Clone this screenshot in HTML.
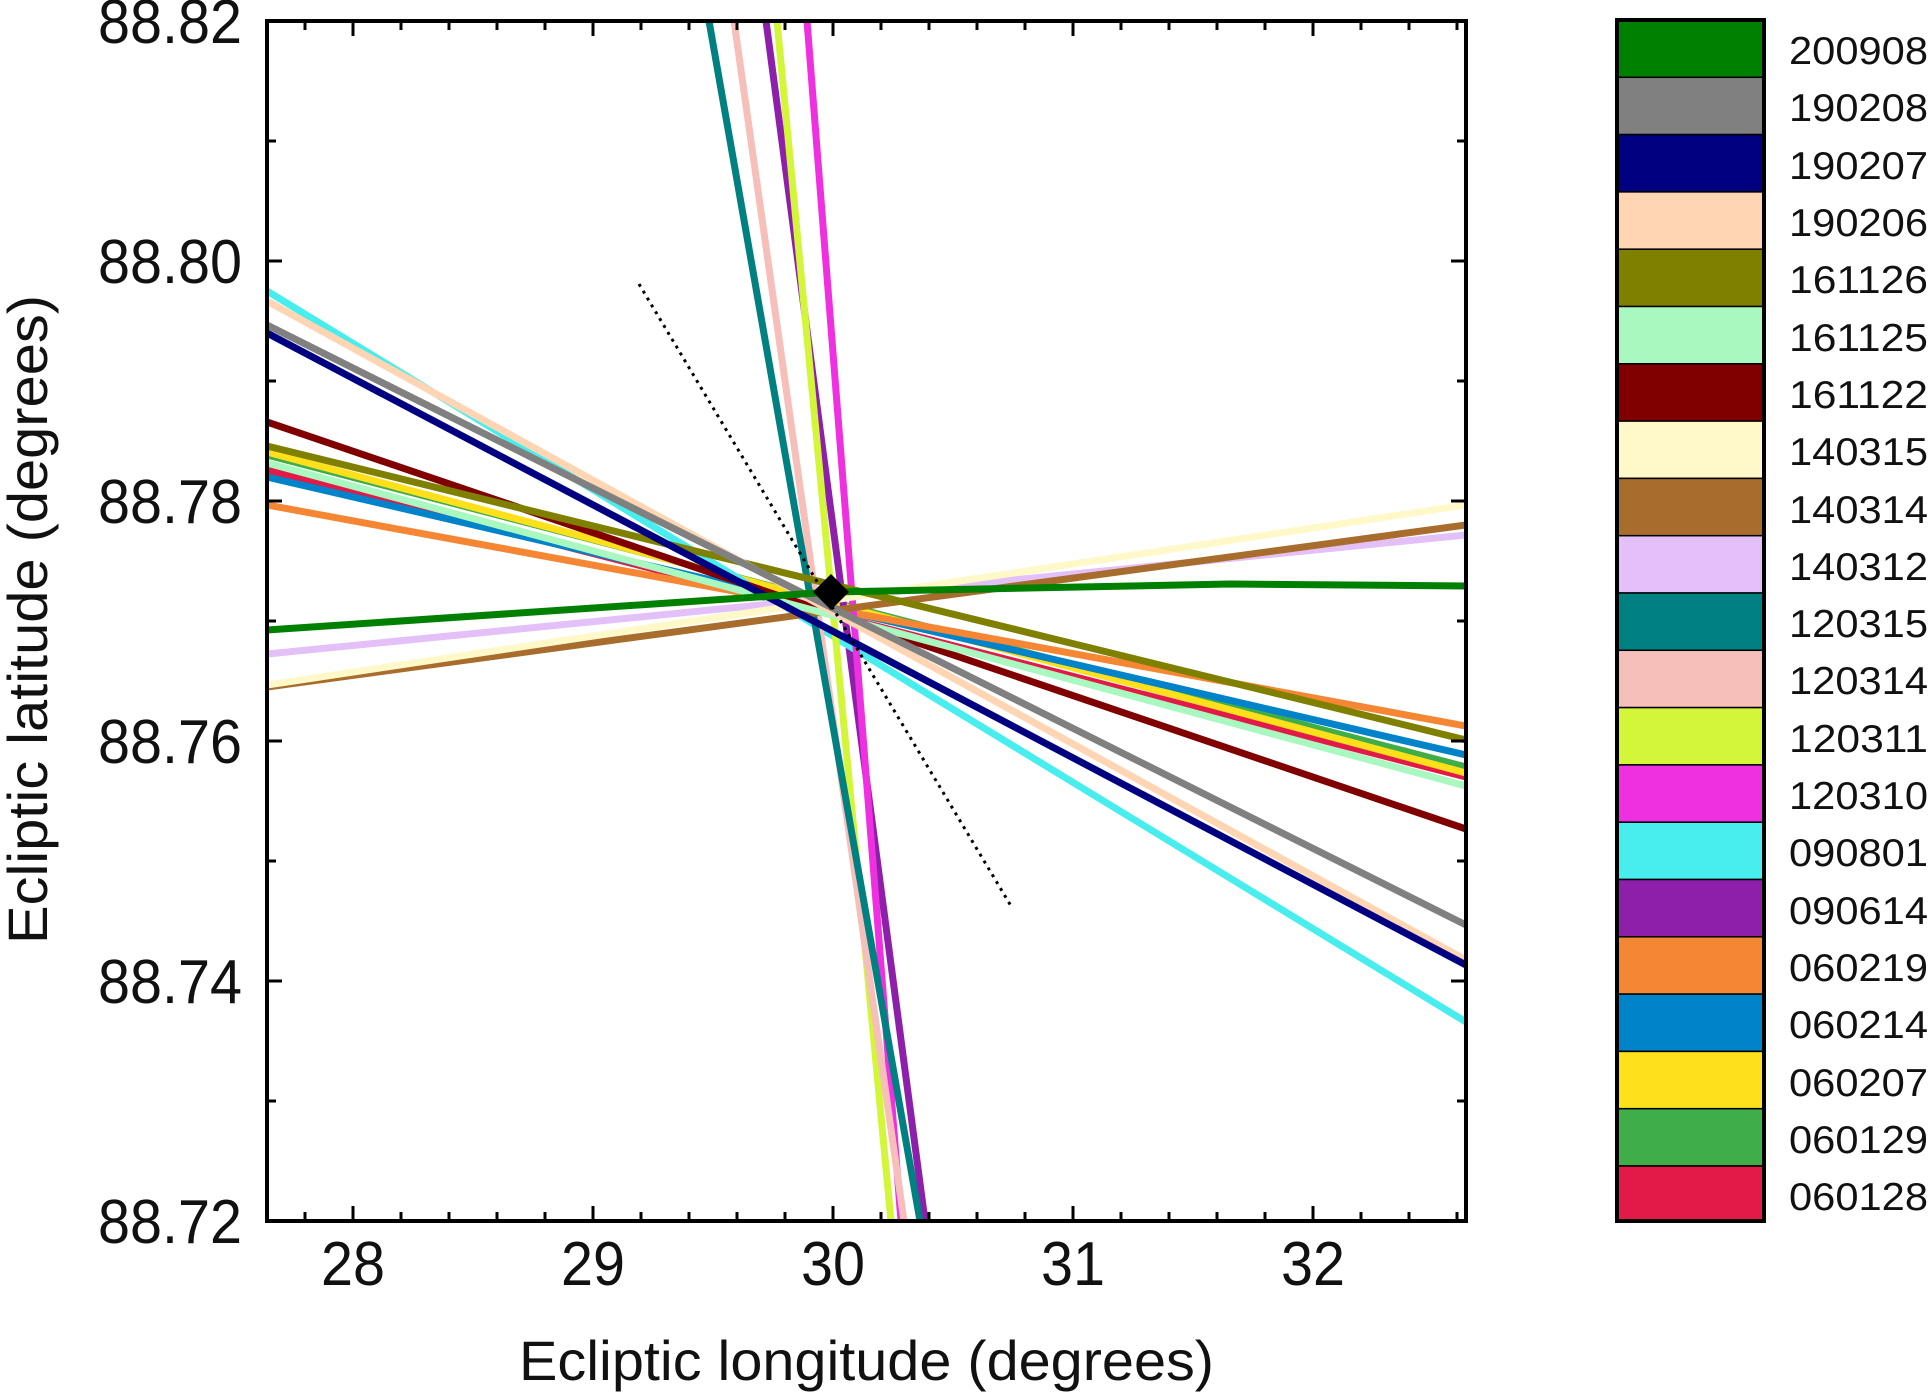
<!DOCTYPE html>
<html><head><meta charset="utf-8"><style>
html,body{margin:0;padding:0;background:#fff;}
svg{display:block;}
text{font-family:"Liberation Sans",Arial,sans-serif;fill:#111;}
</style></head><body>
<svg width="1928" height="1394" viewBox="0 0 1928 1394" xmlns="http://www.w3.org/2000/svg">
<defs><clipPath id="c"><rect x="267" y="21" width="1199" height="1200"/></clipPath></defs>
<g clip-path="url(#c)" stroke-width="7" fill="none" stroke-linecap="butt">
<line x1="267" y1="470" x2="1466" y2="777" stroke="#e31a47"/>
<line x1="267" y1="455" x2="1466" y2="767" stroke="#3fae49"/>
<line x1="267" y1="452" x2="1466" y2="773" stroke="#ffe01a"/>
<line x1="267" y1="477" x2="1466" y2="755" stroke="#0083c8"/>
<line x1="267" y1="505" x2="1466" y2="726" stroke="#f58634"/>
<line x1="766" y1="21" x2="925" y2="1221" stroke="#8e1fab"/>
<line x1="267" y1="291" x2="1466" y2="1022" stroke="#48eeee"/>
<line x1="807" y1="21" x2="901" y2="1221" stroke="#ef30e0"/>
<line x1="777" y1="21" x2="891" y2="1221" stroke="#d3f53a"/>
<line x1="734" y1="21" x2="904" y2="1221" stroke="#f6bfba"/>
<line x1="709" y1="21" x2="920" y2="1221" stroke="#008080"/>
<line x1="267" y1="654" x2="1466" y2="535" stroke="#e3c0f8"/>
<line x1="267" y1="687" x2="1466" y2="525" stroke="#a86d2d"/>
<line x1="267" y1="685" x2="1466" y2="505" stroke="#fff8c8"/>
<line x1="267" y1="422" x2="1466" y2="829" stroke="#800000"/>
<line x1="267" y1="463" x2="1466" y2="786" stroke="#a8f8c0"/>
<line x1="267" y1="446" x2="1466" y2="740" stroke="#808000"/>
<line x1="267" y1="301" x2="1466" y2="960" stroke="#ffd5b3"/>
<line x1="267" y1="325" x2="1466" y2="925" stroke="#808080"/>
<line x1="267" y1="333" x2="1466" y2="965" stroke="#000080"/>
<polyline points="267,630 831,592 1230,584 1466,586" stroke="#008000"/>
<line x1="639" y1="284" x2="1011" y2="906" stroke="#000" stroke-width="3" stroke-dasharray="3,5"/>
<polygon points="831,574 849,592 831,610 813,592" fill="#000" stroke="none"/>
</g>
<g stroke="#000" stroke-width="3">
<path d="M305,1221v-9M353,1221v-15M401,1221v-9M449,1221v-9M497,1221v-9M545,1221v-9M593,1221v-15M641,1221v-9M689,1221v-9M737,1221v-9M785,1221v-9M833,1221v-15M881,1221v-9M929,1221v-9M977,1221v-9M1025,1221v-9M1073,1221v-15M1121,1221v-9M1169,1221v-9M1217,1221v-9M1265,1221v-9M1313,1221v-15M1361,1221v-9M1409,1221v-9M1457,1221v-9"/>
<path d="M305,21v9M353,21v15M401,21v9M449,21v9M497,21v9M545,21v9M593,21v15M641,21v9M689,21v9M737,21v9M785,21v9M833,21v15M881,21v9M929,21v9M977,21v9M1025,21v9M1073,21v15M1121,21v9M1169,21v9M1217,21v9M1265,21v9M1313,21v15M1361,21v9M1409,21v9M1457,21v9"/>
<path d="M267,141h9M267,261h15M267,381h9M267,501h15M267,621h9M267,741h15M267,861h9M267,981h15M267,1101h9"/>
<path d="M1466,141h-9M1466,261h-15M1466,381h-9M1466,501h-15M1466,621h-9M1466,741h-15M1466,861h-9M1466,981h-15M1466,1101h-9"/>
</g>
<rect x="267" y="21" width="1199" height="1200" fill="none" stroke="#000" stroke-width="4"/>
<g font-size="62" text-anchor="end">
<text x="242" y="43" textLength="144" lengthAdjust="spacingAndGlyphs">88.82</text>
<text x="242" y="283" textLength="144" lengthAdjust="spacingAndGlyphs">88.80</text>
<text x="242" y="523" textLength="144" lengthAdjust="spacingAndGlyphs">88.78</text>
<text x="242" y="763" textLength="144" lengthAdjust="spacingAndGlyphs">88.76</text>
<text x="242" y="1003" textLength="144" lengthAdjust="spacingAndGlyphs">88.74</text>
<text x="242" y="1243" textLength="144" lengthAdjust="spacingAndGlyphs">88.72</text>
</g>
<g font-size="62">
<text x="321" y="1285" textLength="64" lengthAdjust="spacingAndGlyphs">28</text>
<text x="561" y="1285" textLength="64" lengthAdjust="spacingAndGlyphs">29</text>
<text x="801" y="1285" textLength="64" lengthAdjust="spacingAndGlyphs">30</text>
<text x="1041" y="1285" textLength="64" lengthAdjust="spacingAndGlyphs">31</text>
<text x="1281" y="1285" textLength="64" lengthAdjust="spacingAndGlyphs">32</text>
<text x="519" y="1380" font-size="56" textLength="695" lengthAdjust="spacingAndGlyphs">Ecliptic longitude (degrees)</text>
<text transform="translate(47,944) rotate(-90)" font-size="56" textLength="649" lengthAdjust="spacingAndGlyphs">Ecliptic latitude (degrees)</text>
</g>
<g stroke="#000" stroke-width="1.5">
<rect x="1617" y="20" width="147" height="57.3" fill="#008000"/>
<rect x="1617" y="77.3" width="147" height="57.3" fill="#808080"/>
<rect x="1617" y="134.6" width="147" height="57.3" fill="#000080"/>
<rect x="1617" y="191.9" width="147" height="57.3" fill="#ffd5b3"/>
<rect x="1617" y="249.2" width="147" height="57.3" fill="#808000"/>
<rect x="1617" y="306.5" width="147" height="57.3" fill="#a8f8c0"/>
<rect x="1617" y="363.8" width="147" height="57.3" fill="#800000"/>
<rect x="1617" y="421.1" width="147" height="57.3" fill="#fff8c8"/>
<rect x="1617" y="478.4" width="147" height="57.3" fill="#a86d2d"/>
<rect x="1617" y="535.7" width="147" height="57.3" fill="#e3c0f8"/>
<rect x="1617" y="593" width="147" height="57.3" fill="#008080"/>
<rect x="1617" y="650.3" width="147" height="57.3" fill="#f6bfba"/>
<rect x="1617" y="707.6" width="147" height="57.3" fill="#d3f53a"/>
<rect x="1617" y="764.9" width="147" height="57.3" fill="#ef30e0"/>
<rect x="1617" y="822.2" width="147" height="57.3" fill="#48eeee"/>
<rect x="1617" y="879.5" width="147" height="57.3" fill="#8e1fab"/>
<rect x="1617" y="936.8" width="147" height="57.3" fill="#f58634"/>
<rect x="1617" y="994.1" width="147" height="57.3" fill="#0083c8"/>
<rect x="1617" y="1051.4" width="147" height="57.3" fill="#ffe01a"/>
<rect x="1617" y="1108.7" width="147" height="57.3" fill="#3fae49"/>
<rect x="1617" y="1166" width="147" height="55" fill="#e31a47"/>
</g>
<rect x="1617" y="20" width="147" height="1201" fill="none" stroke="#000" stroke-width="4"/>
<g font-size="39">
<text x="1789" y="64" textLength="139" lengthAdjust="spacingAndGlyphs">200908</text>
<text x="1789" y="121" textLength="139" lengthAdjust="spacingAndGlyphs">190208</text>
<text x="1789" y="179" textLength="139" lengthAdjust="spacingAndGlyphs">190207</text>
<text x="1789" y="236" textLength="139" lengthAdjust="spacingAndGlyphs">190206</text>
<text x="1789" y="293" textLength="139" lengthAdjust="spacingAndGlyphs">161126</text>
<text x="1789" y="351" textLength="139" lengthAdjust="spacingAndGlyphs">161125</text>
<text x="1789" y="408" textLength="139" lengthAdjust="spacingAndGlyphs">161122</text>
<text x="1789" y="465" textLength="139" lengthAdjust="spacingAndGlyphs">140315</text>
<text x="1789" y="523" textLength="139" lengthAdjust="spacingAndGlyphs">140314</text>
<text x="1789" y="580" textLength="139" lengthAdjust="spacingAndGlyphs">140312</text>
<text x="1789" y="637" textLength="139" lengthAdjust="spacingAndGlyphs">120315</text>
<text x="1789" y="694" textLength="139" lengthAdjust="spacingAndGlyphs">120314</text>
<text x="1789" y="752" textLength="139" lengthAdjust="spacingAndGlyphs">120311</text>
<text x="1789" y="809" textLength="139" lengthAdjust="spacingAndGlyphs">120310</text>
<text x="1789" y="866" textLength="139" lengthAdjust="spacingAndGlyphs">090801</text>
<text x="1789" y="924" textLength="139" lengthAdjust="spacingAndGlyphs">090614</text>
<text x="1789" y="981" textLength="139" lengthAdjust="spacingAndGlyphs">060219</text>
<text x="1789" y="1038" textLength="139" lengthAdjust="spacingAndGlyphs">060214</text>
<text x="1789" y="1096" textLength="139" lengthAdjust="spacingAndGlyphs">060207</text>
<text x="1789" y="1153" textLength="139" lengthAdjust="spacingAndGlyphs">060129</text>
<text x="1789" y="1210" textLength="139" lengthAdjust="spacingAndGlyphs">060128</text>
</g>
</svg>
</body></html>
